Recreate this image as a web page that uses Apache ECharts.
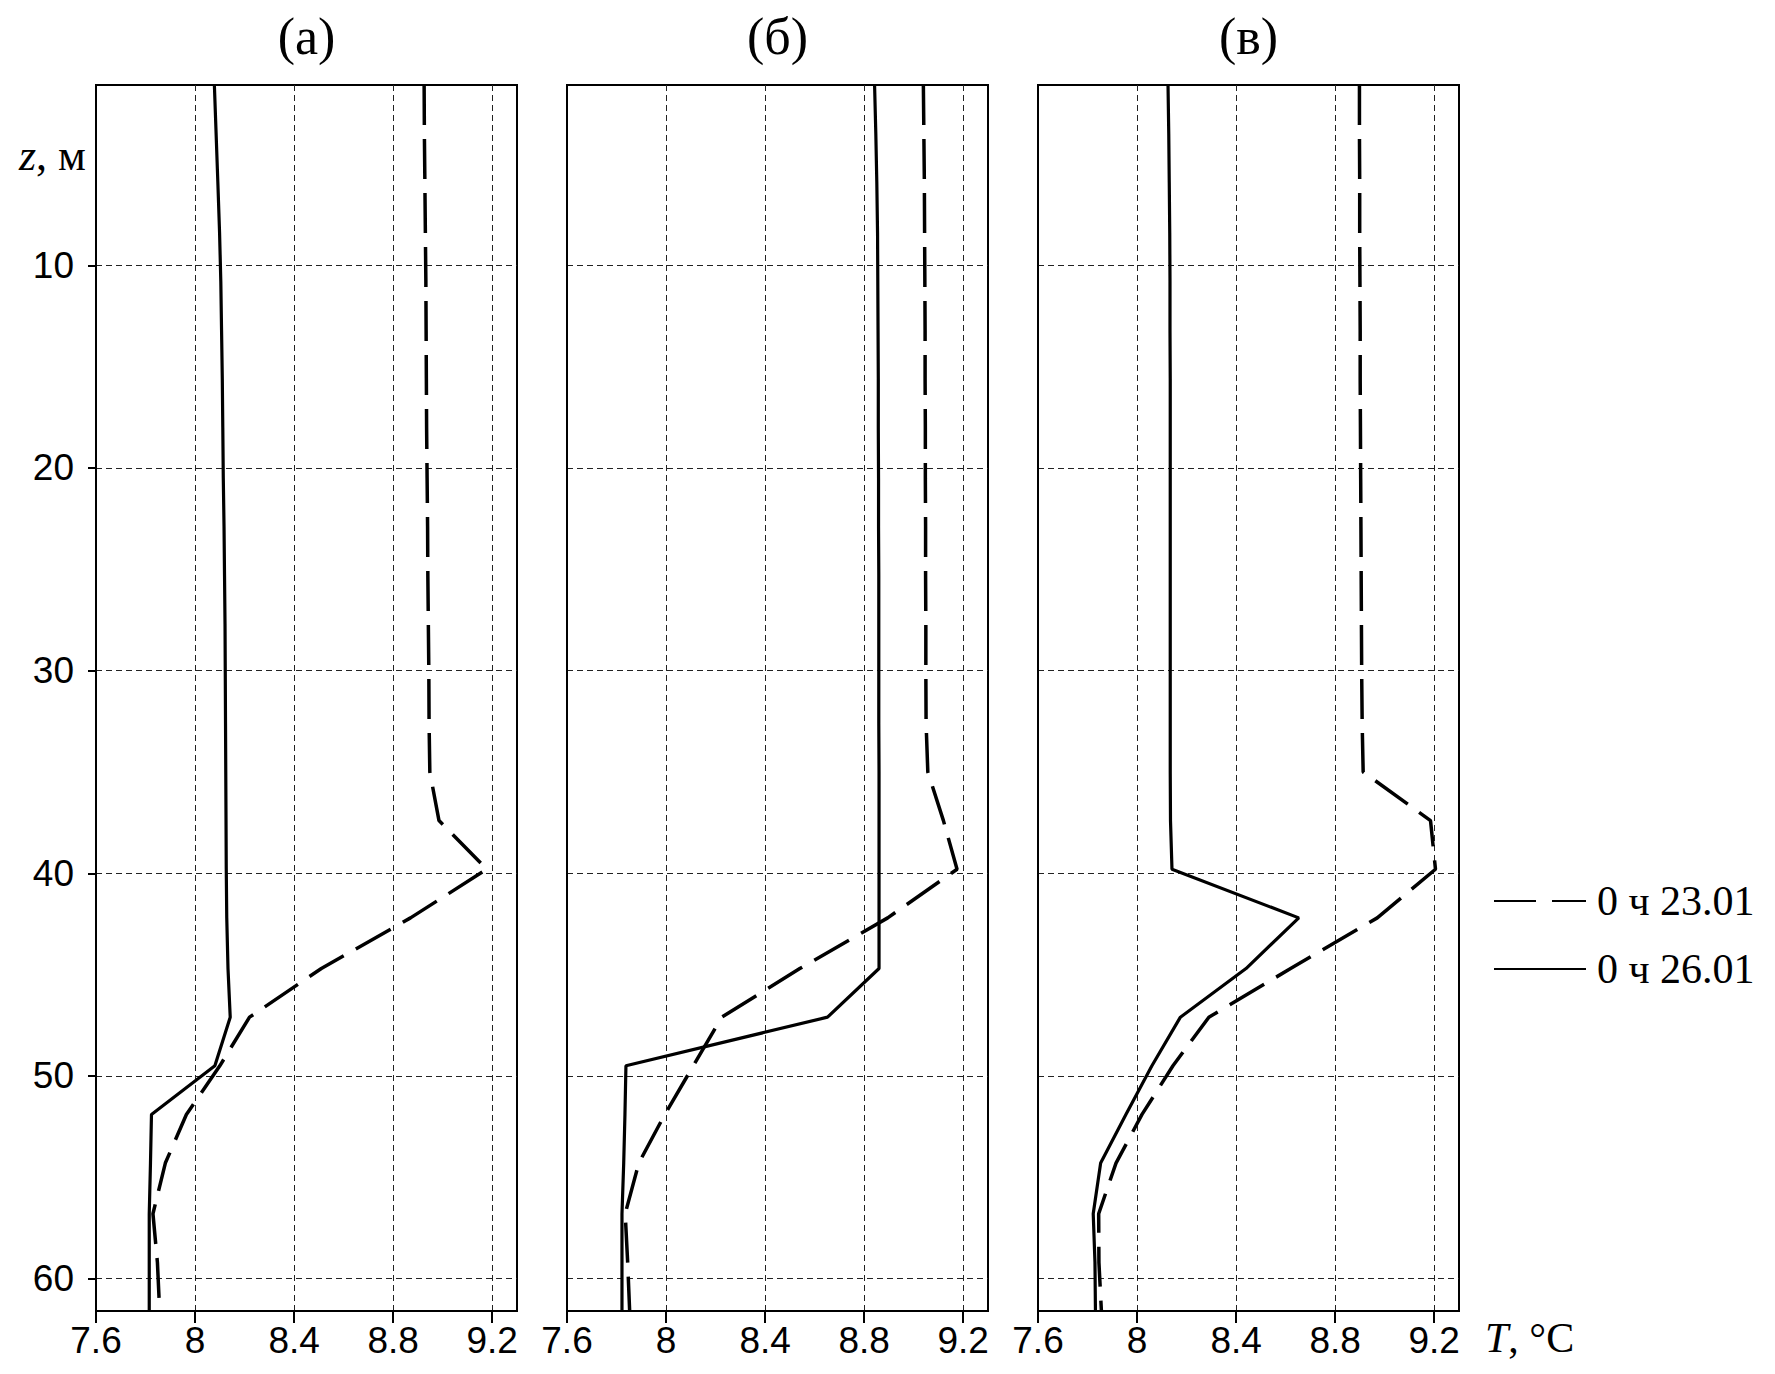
<!DOCTYPE html>
<html>
<head>
<meta charset="utf-8">
<script src="https://cdn.jsdelivr.net/npm/echarts@6/dist/echarts.min.js"></script>
<style>
html, body { margin: 0; padding: 0; background: #fff; }
#c { width: 1775px; height: 1374px; }
</style>
</head>
<body>
<div id="c"></div>
<script>
// ---- data ----
const depths = [1.1, 3.5, 5.9, 8.4, 10.8, 13.2, 15.6, 18.0, 20.5, 22.9, 25.3, 27.7, 30.1,
                32.6, 35.0, 37.4, 39.8, 42.2, 44.7, 47.1, 49.5, 51.9, 54.3, 56.8, 59.2, 61.6];

const tempTicks = [7.6, 8, 8.4, 8.8, 9.2];
const depthTicks = [10, 20, 30, 40, 50, 60];
const panelTitles = ['(а)', '(б)', '(в)'];
const seriesNames = ['0 ч 23.01', '0 ч 26.01'];

// panel (а)
const panelA_2301 = [8.925, 8.926, 8.928, 8.930, 8.932, 8.933, 8.934, 8.935, 8.937, 8.939, 8.940, 8.942, 8.944,
                     8.945, 8.948, 8.985, 9.178, 8.870, 8.510, 8.220, 8.100, 7.965, 7.880, 7.830, 7.848, 7.857];
const panelA_2601 = [8.078, 8.085, 8.092, 8.099, 8.104, 8.107, 8.110, 8.112, 8.114, 8.117, 8.119, 8.121, 8.122,
                     8.123, 8.124, 8.125, 8.126, 8.128, 8.133, 8.142, 8.080, 7.824, 7.820, 7.815, 7.815, 7.815];
// panel (б)
const panelB_2301 = [9.039, 9.041, 9.043, 9.044, 9.045, 9.046, 9.046, 9.047, 9.047, 9.048, 9.048, 9.049, 9.049,
                     9.050, 9.057, 9.120, 9.175, 8.895, 8.540, 8.225, 8.110, 7.995, 7.890, 7.835, 7.845, 7.853];
const panelB_2601 = [8.842, 8.847, 8.851, 8.854, 8.855, 8.856, 8.857, 8.857, 8.858, 8.858, 8.859, 8.859, 8.859,
                     8.859, 8.860, 8.860, 8.860, 8.860, 8.860, 8.652, 7.838, 7.834, 7.829, 7.822, 7.822, 7.822];
// panel (в)
const panelC_2301 = [8.898, 8.898, 8.899, 8.899, 8.900, 8.901, 8.901, 8.902, 8.903, 8.904, 8.905, 8.906, 8.907,
                     8.909, 8.913, 9.185, 9.205, 8.970, 8.620, 8.290, 8.145, 8.020, 7.915, 7.845, 7.846, 7.856];
const panelC_2601 = [8.125, 8.128, 8.130, 8.132, 8.133, 8.133, 8.134, 8.134, 8.134, 8.134, 8.134, 8.134, 8.134,
                     8.134, 8.134, 8.135, 8.141, 8.653, 8.440, 8.175, 8.060, 7.955, 7.853, 7.823, 7.830, 7.832];

const panels = [
  [panelA_2301, panelA_2601],
  [panelB_2301, panelB_2601],
  [panelC_2301, panelC_2601]
];

// ---- layout / style ----
const gridLefts = [96, 567, 1038];
const gridTop = 85, gridWidth = 421, gridHeight = 1226;
const tickFont = "'Liberation Sans', Arial, sans-serif";
const serifFont = "'Liberation Serif', 'DejaVu Serif', serif";
const black = '#000';
const gridLineStyle = { color: '#222', width: 1, type: [6, 4] };

const grids = [], xAxes = [], yAxes = [], series = [], graphics = [];

panels.forEach((pair, p) => {
  grids.push({
    left: gridLefts[p], top: gridTop, width: gridWidth, height: gridHeight,
    show: true, borderColor: black, borderWidth: 2, backgroundColor: 'transparent'
  });
  xAxes.push({
    gridIndex: p, type: 'value', min: 7.6, max: 9.3, position: 'bottom',
    axisLine: { show: true, onZero: false, lineStyle: { color: black, width: 2 } },
    axisTick: { show: true, customValues: tempTicks, length: 12, inside: false, lineStyle: { color: black, width: 2 } },
    axisLabel: { show: true, customValues: tempTicks, margin: 11, color: black, fontFamily: tickFont, fontSize: 37,
                 formatter: v => String(v) },
    splitLine: { show: true, lineStyle: gridLineStyle }
  });
  yAxes.push({
    gridIndex: p, type: 'value', inverse: true, min: 1.1, max: 61.6, position: 'left',
    axisLine: { show: true, onZero: false, lineStyle: { color: black, width: 2 } },
    axisTick: { show: p === 0, customValues: depthTicks, length: 8, lineStyle: { color: black, width: 2 } },
    axisLabel: { show: p === 0, customValues: depthTicks, margin: 22, color: black, fontFamily: tickFont, fontSize: 37 },
    splitLine: { show: true, lineStyle: gridLineStyle }
  });
  series.push({
    name: seriesNames[0], type: 'line', xAxisIndex: p, yAxisIndex: p,
    data: depths.map((z, i) => [pair[0][i], z]),
    symbol: 'none', showSymbol: false, smooth: false, clip: true, animation: false,
    lineStyle: { color: black, width: 3.5, type: [40, 14] }, itemStyle: { color: black }
  });
  series.push({
    name: seriesNames[1], type: 'line', xAxisIndex: p, yAxisIndex: p,
    data: depths.map((z, i) => [pair[1][i], z]),
    symbol: 'none', showSymbol: false, smooth: false, clip: true, animation: false,
    lineStyle: { color: black, width: 3.2, type: 'solid' }, itemStyle: { color: black }
  });
  graphics.push({
    type: 'text', x: gridLefts[p] + gridWidth / 2, y: 36,
    style: { text: panelTitles[p], fill: black, fontFamily: serifFont, fontSize: 52,
             align: 'center', verticalAlign: 'middle' }
  });
});

graphics.push({
  type: 'text', x: 19, y: 155,
  style: { text: '{i|z}, м', fill: black, fontFamily: serifFont, fontSize: 44,
           align: 'left', verticalAlign: 'middle',
           rich: { i: { fontStyle: 'italic', fontFamily: serifFont, fontSize: 44, fill: black } } }
});
graphics.push({
  type: 'text', x: 1485, y: 1338,
  style: { text: '{i|T}, °C', fill: black, fontFamily: serifFont, fontSize: 42,
           align: 'left', verticalAlign: 'middle',
           rich: { i: { fontStyle: 'italic', fontFamily: serifFont, fontSize: 42, fill: black } } }
});

const chart = echarts.init(document.getElementById('c'), null, { renderer: 'svg', width: 1775, height: 1374 });
chart.setOption({
  backgroundColor: '#fff',
  animation: false,
  grid: grids,
  xAxis: xAxes,
  yAxis: yAxes,
  legend: {
    orient: 'vertical', left: 1494, top: 880, padding: 0,
    itemWidth: 92, itemHeight: 2, itemGap: 26,
    selectedMode: false,
    textStyle: { fontFamily: serifFont, fontSize: 42, color: black, padding: [0, 0, 0, 6] },
    data: [
      { name: seriesNames[0], icon: 'path://M0 0H42V2H0Z M58 0H92V2H58Z', itemStyle: { color: black, borderWidth: 0 } },
      { name: seriesNames[1], icon: 'path://M0 0H92V2H0Z', itemStyle: { color: black, borderWidth: 0 } }
    ]
  },
  graphic: graphics,
  series: series
});
</script>
</body>
</html>
